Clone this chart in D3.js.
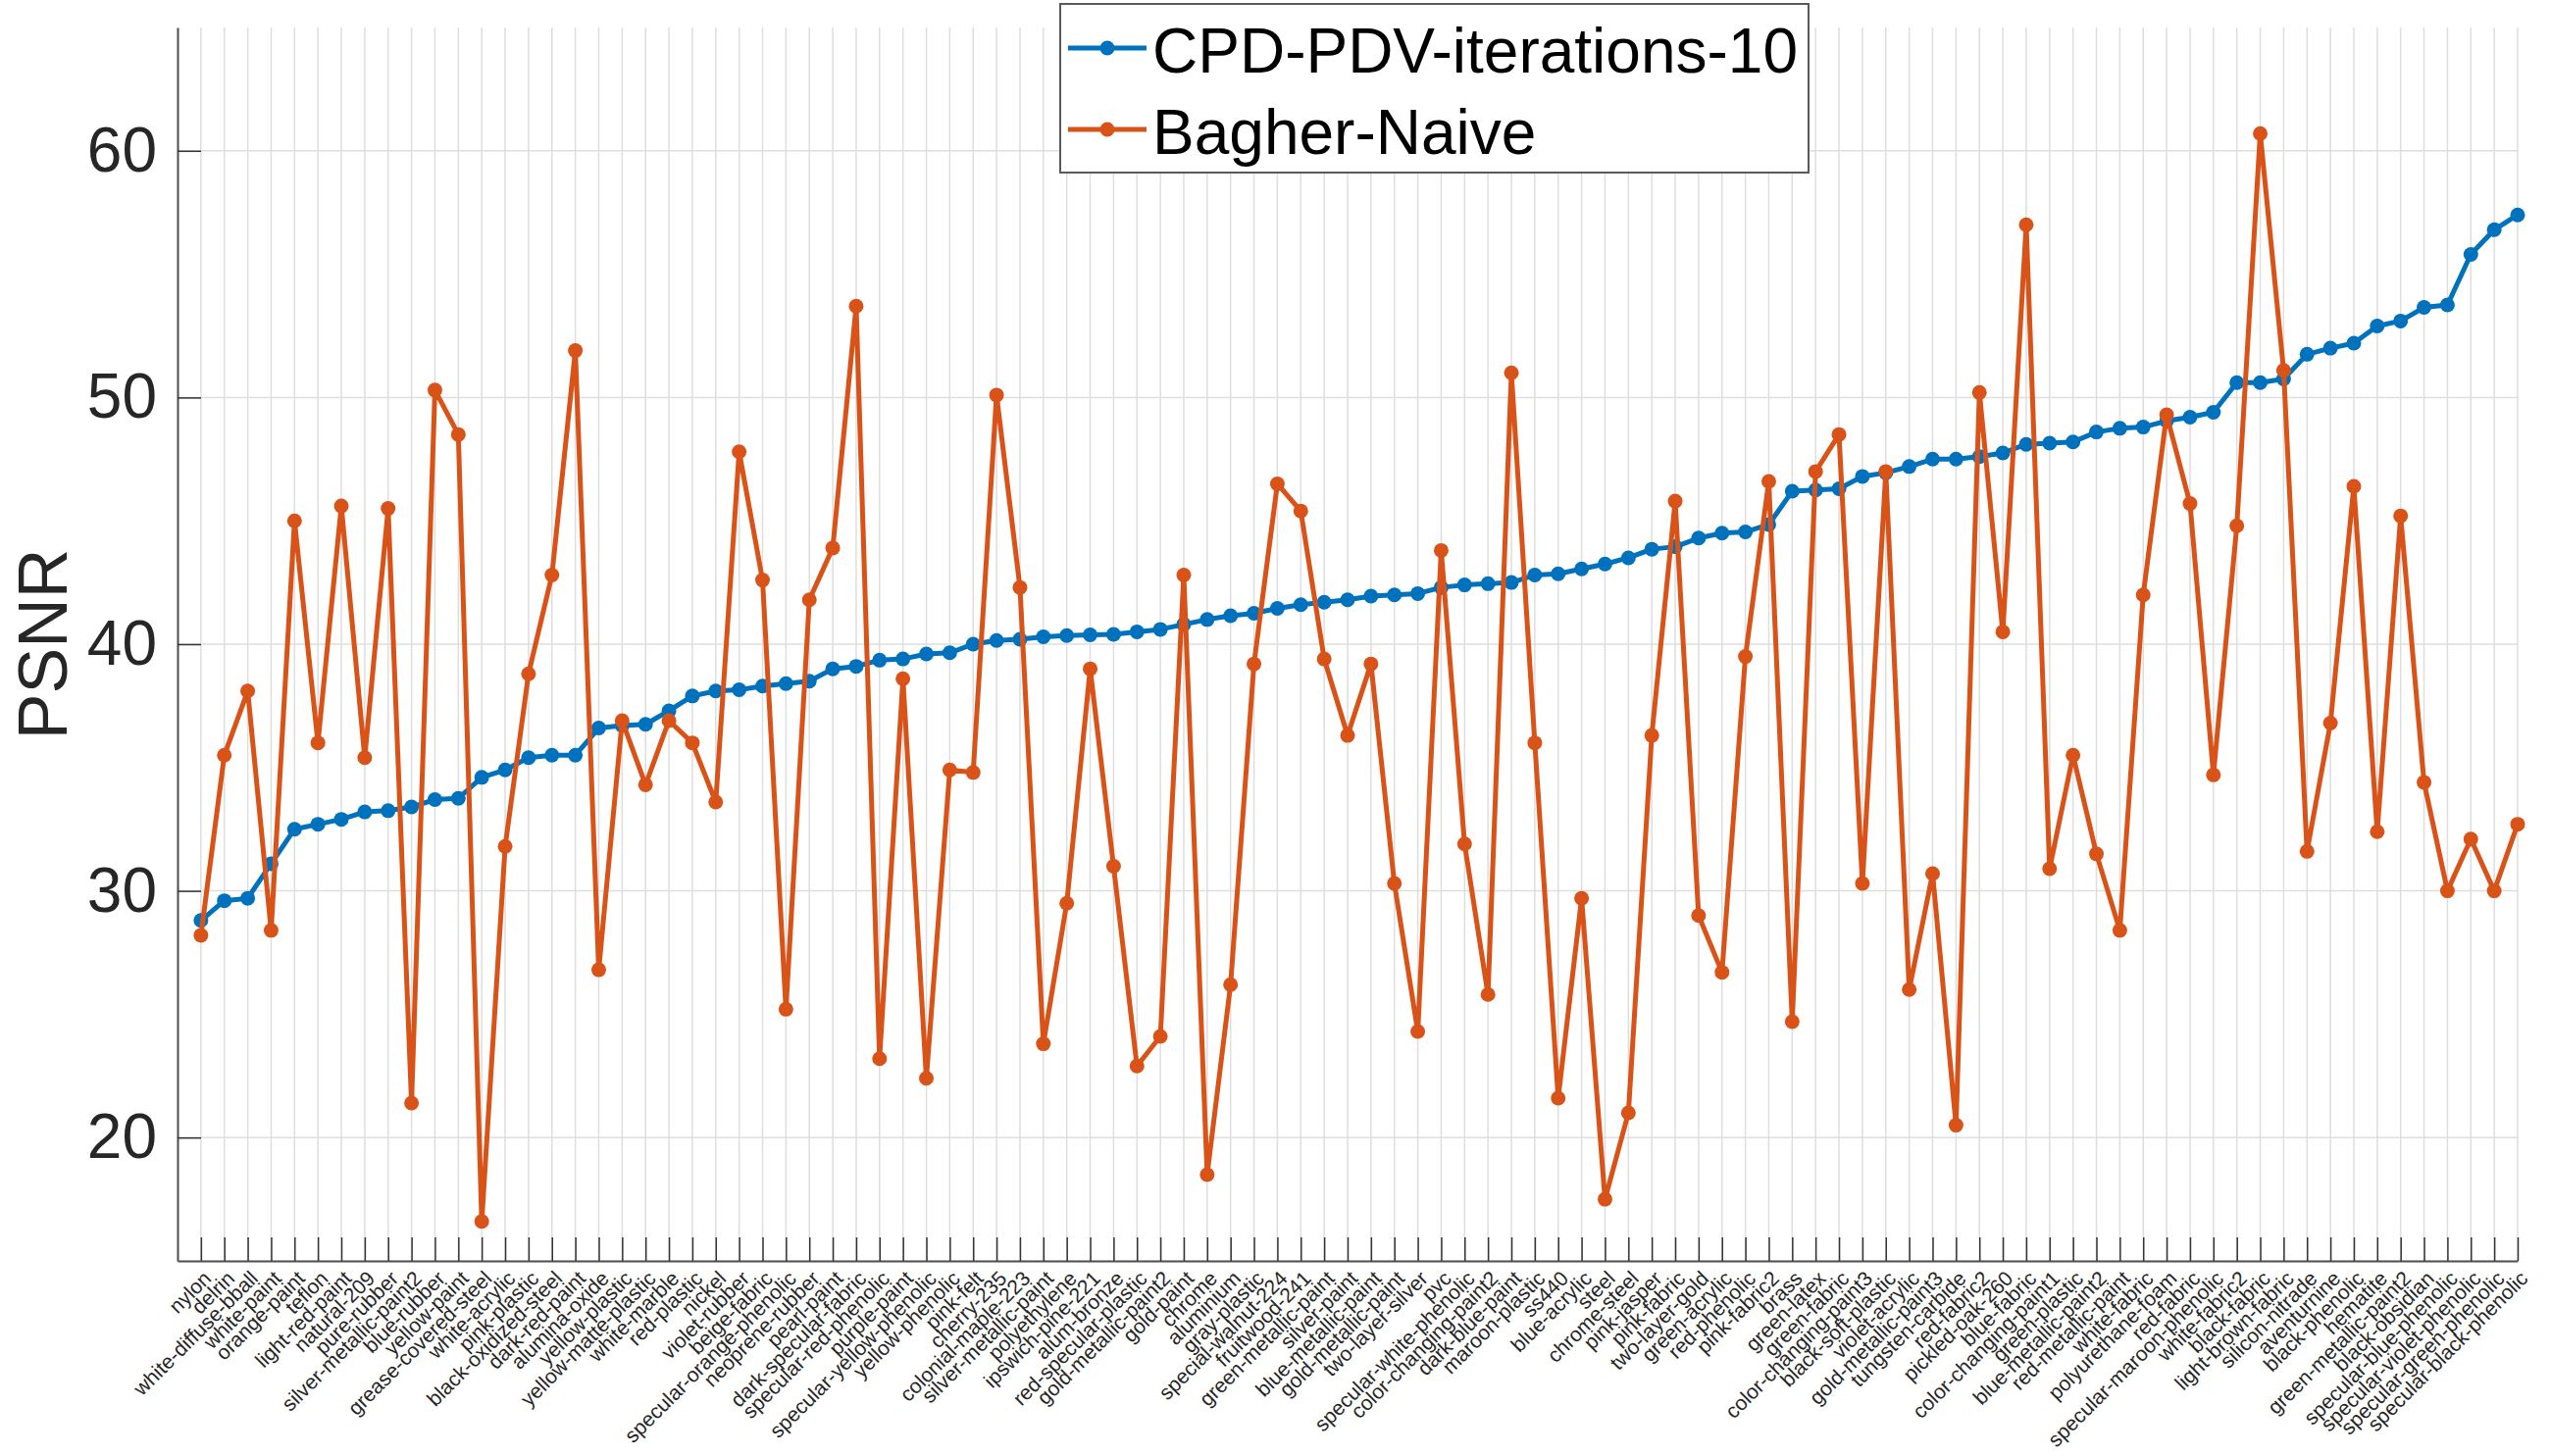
<!DOCTYPE html>
<html lang="en">
<head>
<meta charset="utf-8"/>
<title>PSNR per material</title>
<script src="https://d3js.org/d3.v7.min.js"></script>
<style>
  html, body { margin: 0; padding: 0; background: #fff; }
  svg { display: block; font-family: "Liberation Sans", Arial, Helvetica, sans-serif; }
</style>
</head>
<body>
<svg id="chart"></svg>
<script>
// materials, in the order they are plotted (sorted by CPD-PDV PSNR)
const materials = [
  'nylon','delrin','white-diffuse-bball','white-paint','orange-paint','teflon','light-red-paint','natural-209',
  'pure-rubber','silver-metallic-paint2','blue-rubber','yellow-paint','grease-covered-steel','white-acrylic',
  'pink-plastic','black-oxidized-steel','dark-red-paint','alumina-oxide','yellow-plastic','yellow-matte-plastic',
  'white-marble','red-plastic','nickel','violet-rubber','beige-fabric','specular-orange-phenolic','neoprene-rubber',
  'pearl-paint','dark-specular-fabric','specular-red-phenolic','purple-paint','specular-yellow-phenolic',
  'yellow-phenolic','pink-felt','cherry-235','colonial-maple-223','silver-metallic-paint','polyethylene',
  'ipswich-pine-221','alum-bronze','red-specular-plastic','gold-metallic-paint2','gold-paint','chrome','aluminium',
  'gray-plastic','special-walnut-224','fruitwood-241','green-metallic-paint','silver-paint','blue-metallic-paint',
  'gold-metallic-paint','two-layer-silver','pvc','specular-white-phenolic','color-changing-paint2','dark-blue-paint',
  'maroon-plastic','ss440','blue-acrylic','steel','chrome-steel','pink-jasper','pink-fabric','two-layer-gold',
  'green-acrylic','red-phenolic','pink-fabric2','brass','green-latex','green-fabric','color-changing-paint3',
  'black-soft-plastic','violet-acrylic','gold-metallic-paint3','tungsten-carbide','red-fabric2','pickled-oak-260',
  'blue-fabric','color-changing-paint1','green-plastic','blue-metallic-paint2','red-metallic-paint','white-fabric',
  'polyurethane-foam','red-fabric','specular-maroon-phenolic','white-fabric2','black-fabric','light-brown-fabric',
  'silicon-nitrade','aventurnine','black-phenolic','hematite','green-metallic-paint2','black-obsidian',
  'specular-blue-phenolic','specular-violet-phenolic','specular-green-phenolic','specular-black-phenolic'
]

const cpdPdv = [
  28.8,29.6,29.7,31.1,32.5,32.7,32.9,33.2,33.25,33.4,
  33.7,33.75,34.6,34.9,35.4,35.5,35.5,36.6,36.7,36.75,
  37.3,37.9,38.1,38.15,38.3,38.4,38.5,39.0,39.1,39.35,
  39.4,39.6,39.65,40.0,40.15,40.2,40.3,40.35,40.38,40.4,
  40.5,40.6,40.8,41.0,41.15,41.25,41.45,41.6,41.7,41.8,
  41.95,42.0,42.05,42.3,42.4,42.45,42.5,42.8,42.85,43.05,
  43.25,43.5,43.85,43.95,44.3,44.5,44.55,44.85,46.2,46.25,
  46.3,46.8,46.95,47.2,47.5,47.5,47.6,47.75,48.1,48.15,
  48.2,48.6,48.75,48.8,49.05,49.2,49.4,50.6,50.6,50.75,
  51.75,52.0,52.2,52.9,53.1,53.65,53.75,55.8,56.8,57.4
]

const bagherNaive = [
  28.2,35.5,38.1,28.4,45.0,36.0,45.6,35.4,45.5,21.4,
  50.3,48.5,16.6,31.8,38.8,42.8,51.9,26.8,36.9,34.3,
  36.9,36.0,33.6,47.8,42.6,25.2,41.8,43.9,53.7,23.2,
  38.6,22.4,34.9,34.8,50.1,42.3,23.8,29.5,39.0,31.0,
  22.9,24.1,42.8,18.5,26.2,39.2,46.5,45.4,39.4,36.3,
  39.2,30.3,24.3,43.8,31.9,25.8,51.0,36.0,21.6,29.7,
  17.5,21.0,36.3,45.8,29.0,26.7,39.5,46.6,24.7,47.0,
  48.5,30.3,47.0,26.0,30.7,20.5,50.2,40.5,57.0,30.9,
  35.5,31.5,28.4,42.0,49.3,45.7,34.7,44.8,60.7,51.1,
  31.6,36.8,46.4,32.4,45.2,34.4,30.0,32.1,30.0,32.7
]

const yTicks = [20, 30, 40, 50, 60]
const seriesNames = ['CPD-PDV-iterations-10', 'Bagher-Naive']
const seriesColors = ['#0072BD', '#D95319']

const width = 2600
const height = 1485
const plotLeft = 181, plotRight = 2567, plotTop = 28, plotBottom = 1286

const svg = d3.select('#chart')
  .attr('width', width)
  .attr('height', height)
  .attr('viewBox', `0 0 ${width} ${height}`)

const x = d3.scaleLinear().domain([0, 100]).range([plotLeft, plotRight])
const y = d3.scaleLinear().domain([15, 65]).range([plotBottom, plotTop])
const idx = d3.range(1, materials.length + 1)

// grid
const grid = svg.append('g')
grid.selectAll('line.vx')
  .data(idx)
  .enter()
  .append('line')
  .attr('x1', d => x(d)).attr('x2', d => x(d))
  .attr('y1', y(15)).attr('y2', y(65))
  .attr('stroke', '#dedede')
  .attr('stroke-width', 1.5)
grid.selectAll('line.hy')
  .data(yTicks)
  .enter()
  .append('line')
  .attr('x1', plotLeft).attr('x2', plotRight)
  .attr('y1', d => y(d)).attr('y2', d => y(d))
  .attr('stroke', '#dedede')
  .attr('stroke-width', 1.5)

// axes
const xAxis = svg.append('g')
  .attr('transform', `translate(0,${plotBottom})`)
  .call(d3.axisBottom(x)
    .tickValues(idx)
    .tickSize(-24)
    .tickSizeOuter(0)
    .tickFormat(d => materials[d - 1]))
xAxis.selectAll('text')
  .attr('x', 0).attr('y', 0)
  .attr('dy', '0.35em')
  .attr('text-anchor', 'end')
  .attr('transform', 'translate(6,14) rotate(-45)')
  .style('font-size', '21px')
  .attr('fill', '#262626')

const yAxis = svg.append('g')
  .attr('transform', `translate(${plotLeft},0)`)
  .call(d3.axisLeft(y)
    .tickValues(yTicks)
    .tickSize(-24)
    .tickSizeOuter(0)
    .tickPadding(21))
yAxis.selectAll('text')
  .style('font-size', '64px')
  .attr('fill', '#262626')

svg.selectAll('.domain').attr('stroke', '#4d4d4d').attr('stroke-width', 2)
svg.selectAll('.tick line').attr('stroke', '#333').attr('stroke-width', 1.5)

svg.append('text')
  .attr('transform', `translate(68,${(plotTop + plotBottom) / 2}) rotate(-90)`)
  .attr('text-anchor', 'middle')
  .style('font-size', '70px')
  .attr('fill', '#262626')
  .text('PSNR')

// series
const line = d3.line()
  .x((d, i) => x(i + 1))
  .y(d => y(d))

const allSeries = [cpdPdv, bagherNaive]
allSeries.forEach((vals, s) => {
  const g = svg.append('g')
  g.append('path')
    .datum(vals)
    .attr('d', line)
    .attr('fill', 'none')
    .attr('stroke', seriesColors[s])
    .attr('stroke-width', 5)
    .attr('stroke-linejoin', 'round')
  g.selectAll('circle')
    .data(vals)
    .enter()
    .append('circle')
    .attr('cx', (d, i) => x(i + 1))
    .attr('cy', d => y(d))
    .attr('r', 7.5)
    .attr('fill', seriesColors[s])
})

// legend
const legend = svg.append('g')
legend.append('rect')
  .attr('x', 1081).attr('y', 4)
  .attr('width', 763).attr('height', 172)
  .attr('fill', '#fff')
  .attr('stroke', '#595959')
  .attr('stroke-width', 2)

const rowY = [49, 132]
seriesNames.forEach((name, s) => {
  legend.append('line')
    .attr('x1', 1089).attr('x2', 1169)
    .attr('y1', rowY[s]).attr('y2', rowY[s])
    .attr('stroke', seriesColors[s])
    .attr('stroke-width', 5)
  legend.append('circle')
    .attr('cx', 1129).attr('cy', rowY[s])
    .attr('r', 7.5)
    .attr('fill', seriesColors[s])
  legend.append('text')
    .attr('x', 1175)
    .attr('y', rowY[s] + 25)
    .style('font-size', '64px')
    .attr('fill', '#000')
    .text(name)
})
</script>
</body>
</html>
